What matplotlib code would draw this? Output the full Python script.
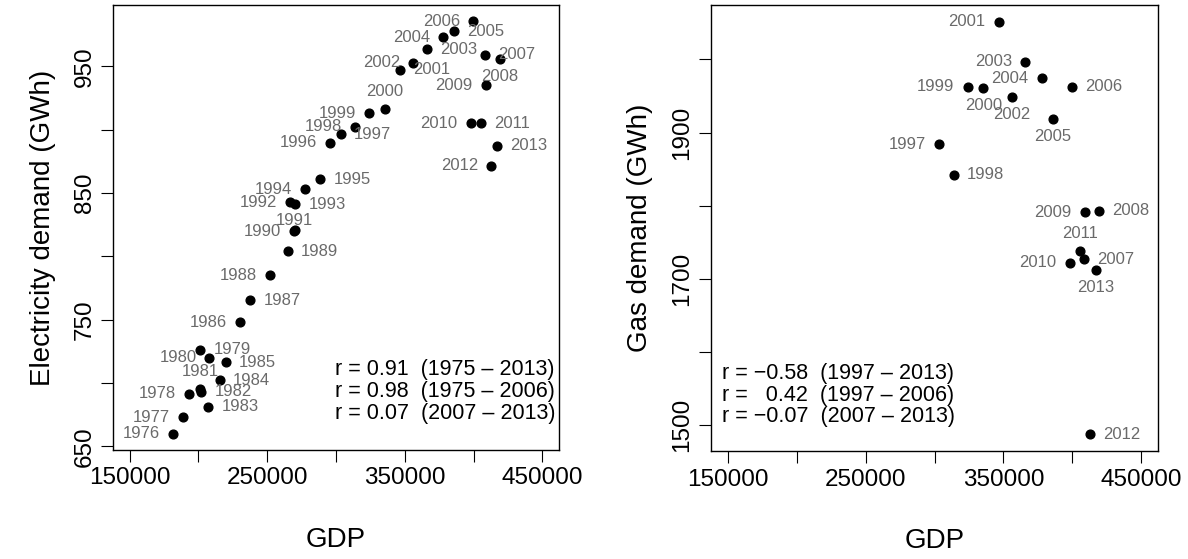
import numpy as np
import matplotlib.pyplot as plt

plt.rcParams['font.family'] = ['Liberation Sans', 'DejaVu Sans']

# annual series 1976-2013
years = list(range(1976, 2014))
gdp = [181700, 188500, 193200, 201400, 208100, 201400, 202100, 207200,
       215700, 220200, 229900, 237700, 252200, 265100, 269700, 270000,
       266700, 270400, 277400, 288700, 296000, 303500, 314100, 324000,
       335400, 346500, 356000, 365800, 377700, 385900, 399600, 408200,
       419000, 408800, 397900, 405400, 412900, 416800]
elec = [660.1, 673.0, 691.3, 726.1, 719.8, 695.2, 693.1, 681.3,
        702.3, 716.4, 748.1, 765.4, 784.9, 804.0, 819.6, 820.4,
        842.5, 841.2, 853.0, 860.9, 889.7, 896.3, 902.3, 912.8,
        916.2, 947.4, 952.9, 963.5, 972.8, 977.5, 985.4, 959.2,
        955.5, 935.1, 904.9, 904.9, 871.4, 887.1]

# gas demand only from 1997
gas_years = list(range(1997, 2014))
gas = [1884.2, 1842.1, 1963.0, 1960.8, 2051.9, 1948.5, 1997.2, 1974.5,
       1918.4, 1963.0, 1726.8, 1793.3, 1791.1, 1722.1, 1738.5, 1487.3,
       1712.1]

# label side per year: 1 below, 2 left, 3 above, 4 right
elec_pos = {1976: 2, 1977: 2, 1978: 2, 1979: 4, 1980: 2, 1981: 3, 1982: 4,
            1983: 4, 1984: 4, 1985: 4, 1986: 2, 1987: 4, 1988: 2, 1989: 4,
            1990: 2, 1991: (0, 7), 1992: 2, 1993: 4, 1994: 2, 1995: 4,
            1996: 2, 1997: 4, 1998: 2, 1999: 2, 2000: 3, 2001: 4, 2002: 2,
            2003: 4, 2004: 2, 2005: 4, 2006: 2, 2007: 4, 2008: 1, 2009: 2,
            2010: 2, 2011: 4, 2012: 2, 2013: 4}
gas_pos = {1997: 2, 1998: 4, 1999: 2, 2000: 1, 2001: 2, 2002: 1, 2003: 2,
           2004: 2, 2005: 1, 2006: 4, 2007: 4, 2008: 4, 2009: 2, 2010: 2,
           2011: 3, 2012: 4, 2013: 1}

elec_r = ["r = 0.91  (1975 \u2013 2013)",
          "r = 0.98  (1975 \u2013 2006)",
          "r = 0.07  (2007 \u2013 2013)"]
gas_r = ["r = \u22120.58  (1997 \u2013 2013)",
         "r =   0.42  (1997 \u2013 2006)",
         "r = \u22120.07  (2007 \u2013 2013)"]

LABEL_GREY = '#6a6a6a'


def pad(lo, hi):
    d = (hi - lo) * 0.04
    return lo - d, hi + d


def label_points(ax, xs, ys, yrs, pos):
    for x, y, yr in zip(xs, ys, yrs):
        p = pos[yr]
        if isinstance(p, tuple):
            dx, dy, ha = p[0], p[1], 'center'
        else:
            dx, dy, ha = {1: (0, -12.6, 'center'), 2: (-9.4, 0, 'right'),
                          3: (0, 12.6, 'center'), 4: (9.4, 0, 'left')}[p]
        ax.annotate(str(yr), (x, y), xytext=(dx, dy), textcoords='offset points',
                    ha=ha, va='center', fontsize=12, color=LABEL_GREY)


def style(ax, yticks, ylabels, ylabel):
    ax.set_xlim(pad(150000, 450000))
    ax.set_xticks(np.arange(150000, 450001, 50000))
    ax.set_xticklabels([str(v) if v % 100000 == 50000 else '' for v in range(150000, 450001, 50000)])
    ax.set_yticks(yticks)
    ax.set_yticklabels(ylabels, rotation=90, va='center')
    ax.tick_params(direction='out', length=8.6, width=0.8, labelsize=17.5, pad=4)
    for s in ax.spines.values():
        s.set_linewidth(1.0)
    ax.set_xlabel('GDP', fontsize=20)
    ax.xaxis.label.set_va('center')
    ax.xaxis.set_label_coords(0.5, -0.202)
    ax.set_ylabel(ylabel, fontsize=20)
    ax.yaxis.label.set_va('center')
    ax.yaxis.set_label_coords(-0.157, 0.5)


fig = plt.figure(figsize=(11.88, 5.59), dpi=100)
ax1 = fig.add_axes([113 / 1188, 1 - 450 / 559, 446 / 1188, 445 / 559])
ax2 = fig.add_axes([711 / 1188, 1 - 451 / 559, 447 / 1188, 446 / 559])

# electricity vs GDP
ax1.plot(gdp, elec, 'o', color='black', markersize=6.3)
ax1.set_ylim(pad(min(elec), max(elec)))
label_points(ax1, gdp, elec, years, elec_pos)
yt = np.arange(650, 951, 50)
style(ax1, yt, [str(v) if v % 100 == 50 else '' for v in yt], 'Electricity demand (GWh)')
for i, s in enumerate(elec_r):
    ax1.text(0.498, 0.180 - i * 0.049, s, transform=ax1.transAxes,
             ha='left', va='center', fontsize=15.5)

# gas vs GDP
gdp_gas = [gdp[years.index(y)] for y in gas_years]
ax2.plot(gdp_gas, gas, 'o', color='black', markersize=6.3)
ax2.set_ylim(pad(min(gas), max(gas)))
label_points(ax2, gdp_gas, gas, gas_years, gas_pos)
yt = np.arange(1500, 2001, 100)
style(ax2, yt, [str(v) if v in (1500, 1700, 1900) else '' for v in yt], 'Gas demand (GWh)')
ax2.yaxis.set_label_coords((640 - 711) / 447, 0.5)
for i, s in enumerate(gas_r):
    ax2.text(0.024, 0.174 - i * 0.0487, s, transform=ax2.transAxes,
             ha='left', va='center', fontsize=15.5)

fig.savefig('out.png', dpi=100)
